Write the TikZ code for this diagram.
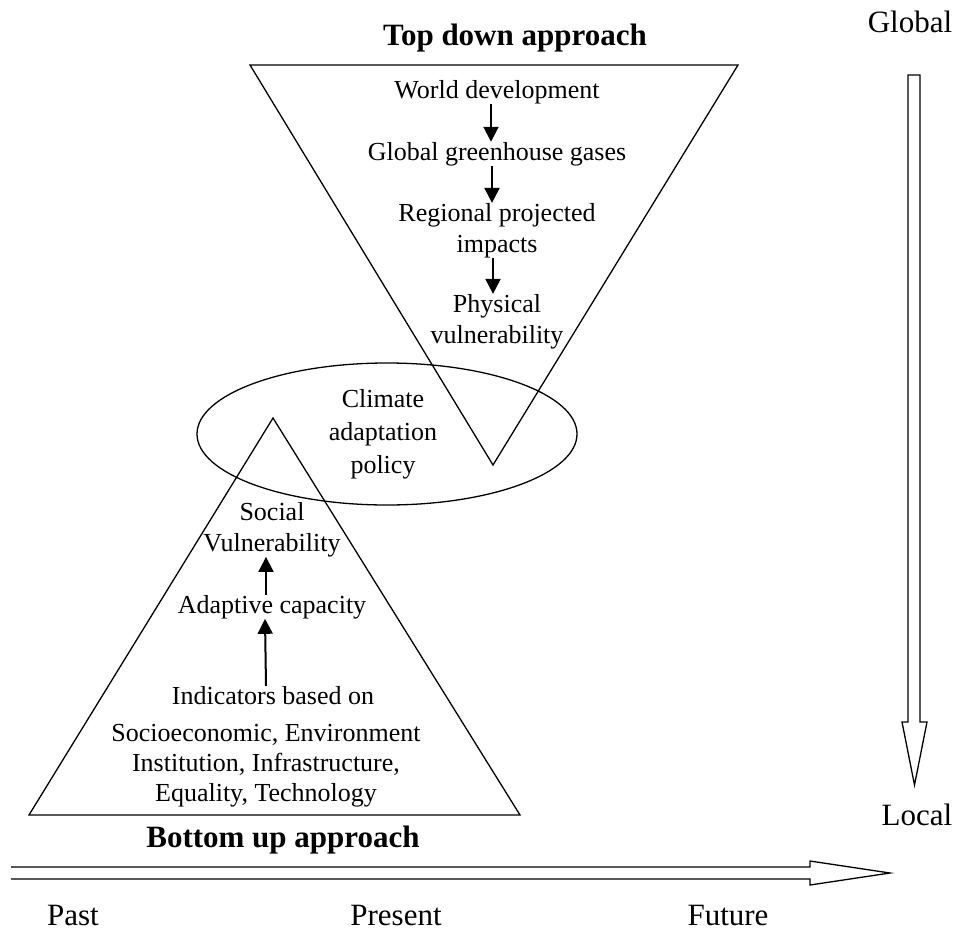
\documentclass[tikz,border=0pt]{standalone}
\usepackage{fontspec}
\setmainfont{Liberation Serif}
\usetikzlibrary{arrows.meta}
\begin{document}
\begin{tikzpicture}[x=1pt,y=-1pt,
  outline/.style={draw,line width=1.3pt,line join=miter},
  txt/.style={inner sep=0pt,align=center,font=\fontsize{26}{31}\selectfont},
  lbl/.style={inner sep=0pt,anchor=base,font=\fontsize{31}{36}\selectfont},
  ttl/.style={inner sep=0pt,anchor=base,font=\fontsize{31}{36}\selectfont\bfseries},
  flow/.style={line width=2pt,-{Triangle[length=15pt,width=15pt]}},
  hollow/.style={draw,line width=1.3pt,line join=miter}]
\useasboundingbox (0,0) rectangle (958,932);
\fill[white] (0,0) rectangle (958,932);

% shapes
\draw[outline] (250,65) -- (738,65) -- (493,465) -- cycle;
\draw[outline] (273,418) -- (520,815) -- (29,815) -- cycle;
\draw[outline] (387,434) ellipse [x radius=190, y radius=71];

% top-down texts
\node[ttl] (topttl) at (515,45) {Top down approach};
\node[txt,anchor=base] (world) at (497,98) {World development};
\node[txt,anchor=base] (ghg) at (497,160) {Global greenhouse gases};
\node[txt] (reg) at (497,230.4) {Regional projected\\impacts};
\node[txt] (phys) at (497,321.4) {Physical\\vulnerability};

\draw[flow] ([xshift=-6pt]world.south) -- ([xshift=-6pt]ghg.north);
\draw[flow] ([xshift=-5pt]ghg.south) -- ([xshift=-5pt]reg.north);
\draw[flow] ([xshift=-4pt]reg.south) -- ([xshift=-4pt]phys.north);

% centre
\node[txt,font=\fontsize{26}{33}\selectfont] (cap) at (383,433.9) {Climate\\adaptation\\policy};

% bottom-up texts
\node[txt] (soc) at (272,529.4) {Social\\Vulnerability};
\node[txt,anchor=base] (adap) at (272,613) {Adaptive capacity};
\node[txt,anchor=base] (ind) at (273,704) {Indicators based on};
\node[txt,font=\fontsize{26}{30}\selectfont] (dims) at (266,765.9) {Socioeconomic, Environment\\Institution, Infrastructure,\\Equality, Technology};
\node[ttl] (botttl) at (283,847) {Bottom up approach};

\draw[flow] ([xshift=-6pt]adap.north) -- ([xshift=-6pt]soc.south);
\draw[flow] ([xshift=-7pt]ind.north) -- ([xshift=-7pt]adap.south);

% scale labels
\node[lbl] (global) at (910,32) {Global};
\node[lbl] (local) at (917,825) {Local};
\node[lbl] (past) at (73,925) {Past};
\node[lbl] (present) at (396,925) {Present};
\node[lbl] (future) at (728,925) {Future};

% hollow arrows
\draw[hollow] (908,75) -- (920,75) -- (920,722) -- (927,722) -- (914.5,785)
  -- (902,722) -- (908,722) -- cycle;
\draw[hollow] (11,867) -- (810,867) -- (810,861) -- (890,873) -- (810,885)
  -- (810,879) -- (11,879);
\end{tikzpicture}
\end{document}
